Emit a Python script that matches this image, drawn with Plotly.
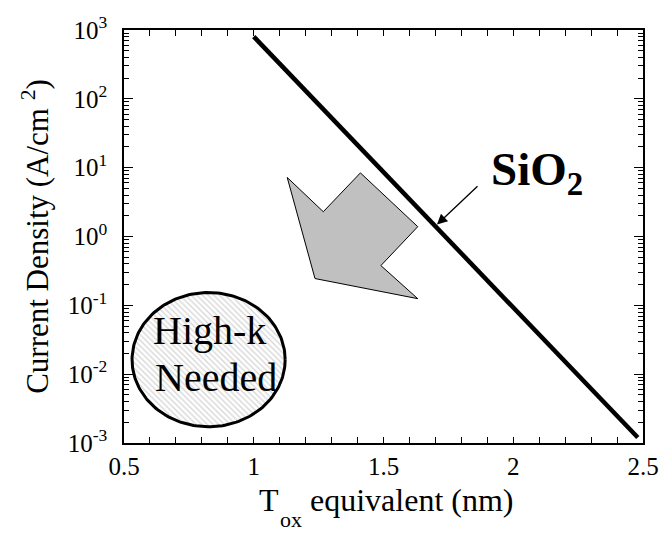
import numpy as np
import plotly.graph_objects as go

# SiO2 gate leakage line: equivalent oxide thickness (nm) vs current density (A/cm^2)
tox_nm = [1.0, 2.48]
j_sio2 = [800.0, 1.2e-3]

# Gray "scaling" arrow outline (x in nm, y in A/cm^2)
arrow_x = [1.129, 1.268, 1.411, 1.632, 1.490, 1.632, 1.236, 1.129]
arrow_y = [7.2, 2.29, 8.4, 1.39, 0.378, 0.125, 0.245, 7.2]

# "High-k Needed" region: centre (nm, log10 J) and half-axes (nm, decades)
region_center = [0.826, -1.789]
region_radius = [0.295, 0.975]

# Axis ticks
x_ticks = [0.5, 1.0, 1.5, 2.0, 2.5]
x_ticktext = ["0.5", "1", "1.5", "2", "2.5"]
y_ticks = [1e-3, 1e-2, 1e-1, 1e0, 1e1, 1e2, 1e3]
y_ticktext = ["10<sup>-3</sup>", "10<sup>-2</sup>", "10<sup>-1</sup>", "10<sup>0</sup>",
              "10<sup>1</sup>", "10<sup>2</sup>", "10<sup>3</sup>"]

FONT = "Liberation Serif"

fig = go.Figure()

# hatched ellipse
t = np.linspace(0, 2 * np.pi, 200)
ex = region_center[0] + region_radius[0] * np.cos(t)
ey = 10 ** (region_center[1] + region_radius[1] * np.sin(t))
fig.add_trace(go.Scatter(
    x=ex, y=ey, mode="lines", fill="toself",
    fillcolor="white",
    fillpattern=dict(shape="\\", fgcolor="#b0b0b0", bgcolor="white", size=4, solidity=0.35),
    line=dict(color="black", width=3), hoverinfo="skip", showlegend=False))

# gray arrow
fig.add_trace(go.Scatter(
    x=arrow_x, y=arrow_y, mode="lines", fill="toself", fillcolor="#c0c0c0",
    line=dict(color="black", width=1), hoverinfo="skip", showlegend=False))

# SiO2 line
fig.add_trace(go.Scatter(
    x=tox_nm, y=j_sio2, mode="lines",
    line=dict(color="black", width=4.5), showlegend=False))

axis_common = dict(
    showline=True, linecolor="black", linewidth=1.5, mirror="allticks",
    ticks="inside", tickcolor="black", tickwidth=1,
    showgrid=False, zeroline=False,
    tickfont=dict(family=FONT, size=25, color="black"),
)

fig.update_xaxes(
    range=[0.5, 2.5], tickvals=x_ticks, ticktext=x_ticktext, ticklen=6,
    minor=dict(dtick=0.1, ticks="inside", ticklen=6, tickcolor="black", tickwidth=1),
    ticklabelstandoff=0, automargin=False,
    **axis_common)

fig.update_yaxes(
    type="log", range=[-3, 3], tickvals=y_ticks, ticktext=y_ticktext, ticklen=9,
    minor=dict(dtick="D1", ticks="inside", ticklen=5, tickcolor="black", tickwidth=1),
    title=dict(text="Current Density (A/cm <sup>2</sup>)", font=dict(family=FONT, size=31, color="black"),
               standoff=10),
    ticklabelstandoff=10,
    **axis_common)

# x-axis title: T with a deep "ox" subscript, then "equivalent (nm)"
title_font = dict(family=FONT, size=32, color="black")
fig.add_annotation(x=0.2563, y=-0.137, xref="paper", yref="paper", xanchor="left", yanchor="middle",
                   text="T", showarrow=False, font=title_font)
fig.add_annotation(x=0.2967, y=-0.186, xref="paper", yref="paper", xanchor="left", yanchor="middle",
                   text="ox", showarrow=False, font=dict(family=FONT, size=22, color="black"))
fig.add_annotation(x=0.3545, y=-0.138, xref="paper", yref="paper", xanchor="left", yanchor="middle",
                   text="equivalent (nm)", showarrow=False, font=title_font)

# arrow pointing at the SiO2 line
fig.add_annotation(
    x=1.706, y=0.173, ax=1.868, ay=0.750, xref="x", yref="y", axref="x", ayref="y",
    text="", showarrow=True, arrowhead=2, arrowsize=1.6, arrowwidth=1.3, arrowcolor="black")

fig.add_annotation(
    x=1.905, y=0.93, xref="x", yref="y", xanchor="left", yanchor="middle",
    text="<b>SiO<sub>2</sub></b>", showarrow=False,
    font=dict(family=FONT, size=47, color="black"))

fig.add_annotation(
    x=0.828, y=-1.36, xref="x", yref="y", xanchor="center", yanchor="middle",
    text="High-k", showarrow=False, font=dict(family=FONT, size=40, color="black"))
fig.add_annotation(
    x=0.855, y=-2.05, xref="x", yref="y", xanchor="center", yanchor="middle",
    text="Needed", showarrow=False, font=dict(family=FONT, size=40, color="black"))

fig.update_layout(
    width=662, height=536,
    margin=dict(l=124, r=19, t=27, b=93),
    plot_bgcolor="white", paper_bgcolor="white",
    font=dict(family=FONT, color="black"),
)

fig.write_html("out.html")
